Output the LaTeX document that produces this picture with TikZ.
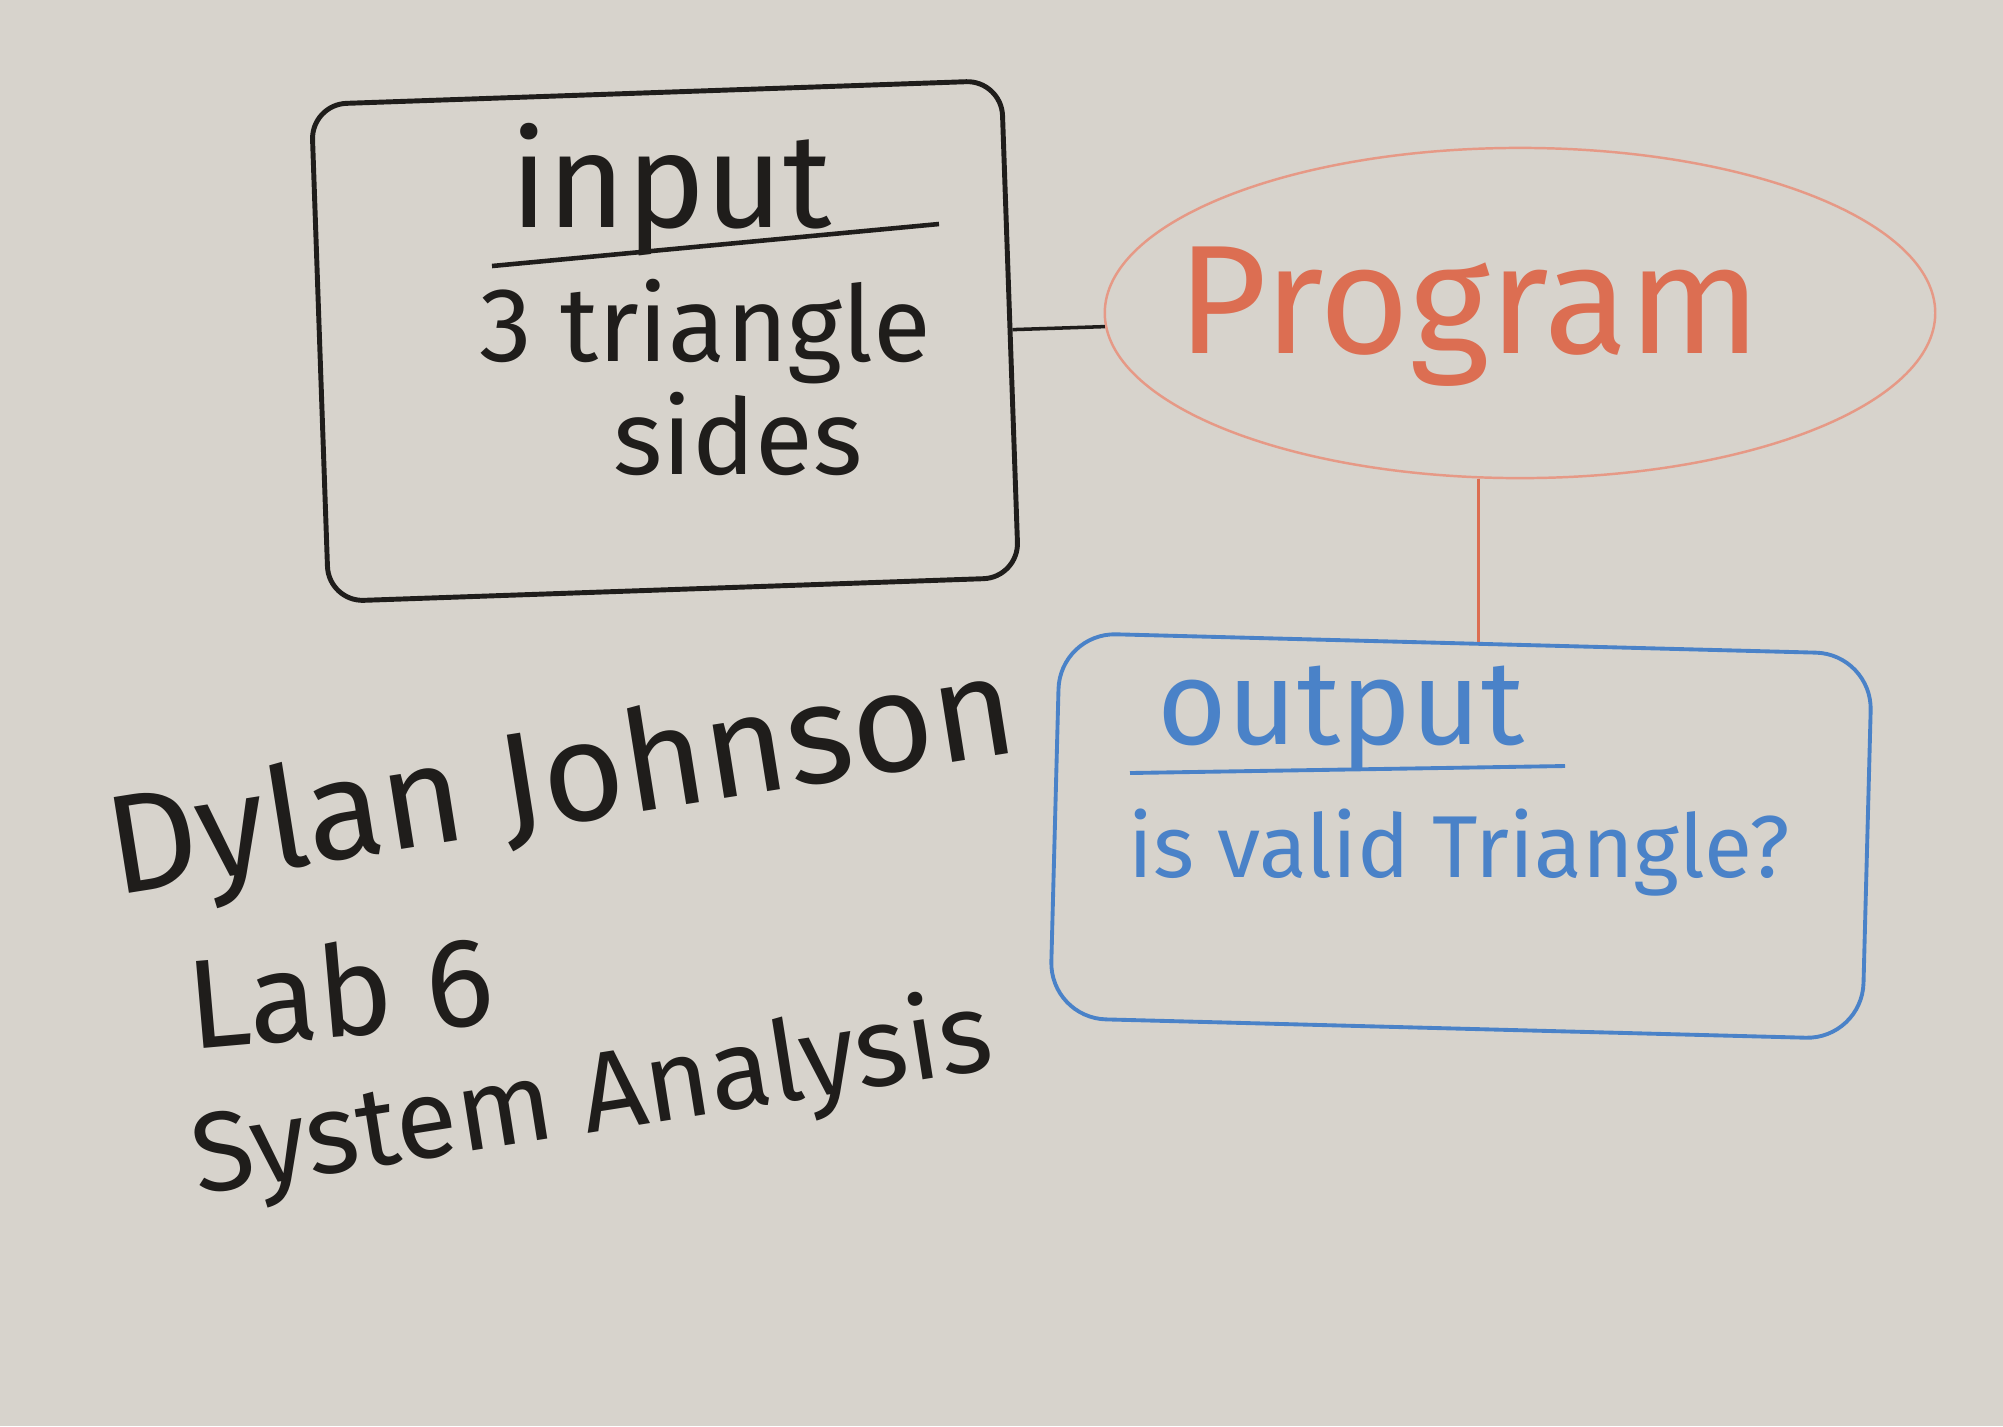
\documentclass[tikz,border=0pt]{standalone}
\usepackage{fontspec}
\setmainfont{Fira Sans}
\usetikzlibrary{shapes.geometric}
\definecolor{board}{HTML}{D7D3CC}
\definecolor{ink}{HTML}{1F1D1B}
\definecolor{marker}{HTML}{DC6E52}
\definecolor{bluepen}{HTML}{4A82C8}
\begin{document}
\begin{tikzpicture}[x=0.01cm,y=-0.01cm,
  inkbox/.style={draw=ink,line width=1.4pt,rounded corners=10pt,inner sep=0pt},
  progshape/.style={ellipse,draw=marker!70,line width=0.7pt,inner sep=0pt},
  outshape/.style={draw=bluepen,line width=1.1pt,rounded corners=16pt,inner sep=0pt},
  hand/.style={inner sep=0pt,text=#1},
  hand/.default=ink]
\fill[board] (0,0) rectangle (2003,1426);
\useasboundingbox (0,0) rectangle (2003,1426);
% input box
\node[inkbox,minimum width=6.9cm,minimum height=4.97cm,rotate=2] (inbox) at (665,341) {};
\node[hand,font=\fontsize{38}{42}\selectfont] (intitle) at (671,190) {input};
\draw[ink,line width=1.3pt] (492,266) -- (939,224);
\node[hand,font=\fontsize{30}{34}\selectfont] (inline1) at (705,332) {3 triangle};
\node[hand,font=\fontsize{30}{34}\selectfont] (inline2) at (738,434) {sides};
% program
\node[progshape,minimum width=8.3cm,minimum height=3.3cm] (prog) at (1520,313) {};
\node[hand=marker,font=\fontsize{44}{48}\selectfont] (progtext) at (1469,317) {Program};
% output box
\node[outshape,minimum width=8.12cm,minimum height=3.85cm,rotate=-1.5] (outbox) at (1461,836) {};
\node[hand=bluepen,font=\fontsize{34}{38}\selectfont] (outtitle) at (1341,718) {output};
\draw[bluepen,line width=1.1pt] (1130,773) -- (1565,766);
\node[hand=bluepen,font=\fontsize{25}{29}\selectfont] (outline) at (1459,853) {is valid Triangle?};
% connectors
\draw[ink,line width=1pt] (inbox) -- (prog);
\draw[marker,line width=0.9pt] (prog.256) -- (outbox.north -| prog.256);
% name
\node[hand,font=\fontsize{40}{44}\selectfont,rotate=9] (name) at (562,786) {Dylan Johnson};
\node[hand,font=\fontsize{36}{40}\selectfont,rotate=5] (lab) at (340,990) {Lab 6};
\node[hand,font=\fontsize{32}{36}\selectfont,rotate=9] (course) at (592,1100) {System Analysis};
\end{tikzpicture}
\end{document}
